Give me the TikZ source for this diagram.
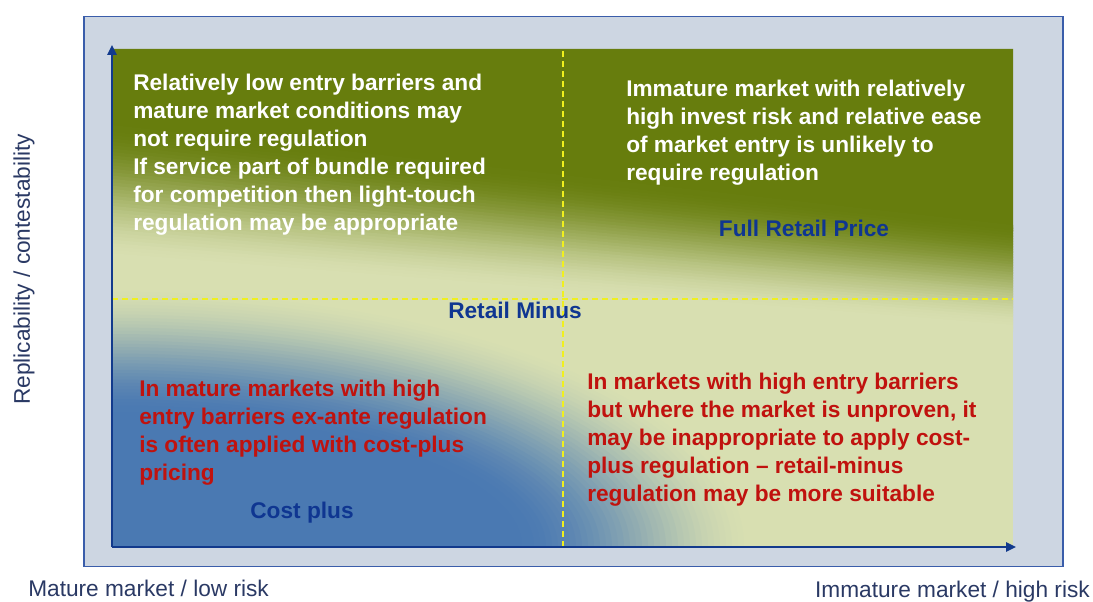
\documentclass[tikz,border=0pt]{standalone}
\usepackage{fontspec}
\setmainfont{Liberation Sans}
\usetikzlibrary{
    positioning,
    arrows.meta
    }

\definecolor{leaf}{RGB}{103,125,13}
\definecolor{cream}{RGB}{216,223,177}
\definecolor{steel}{RGB}{74,121,178}
\definecolor{panel}{RGB}{205,214,226}
\definecolor{panelline}{RGB}{58,93,170}
\definecolor{axisblue}{RGB}{18,58,140}
\definecolor{navy}{RGB}{15,54,145}
\definecolor{warnred}{RGB}{192,18,14}
\definecolor{guide}{RGB}{240,240,30}
\definecolor{slate}{RGB}{42,57,100}

\begin{document}
\begin{tikzpicture}[x=0.75pt, y=0.75pt]
	\tikzset{backdrop/.style =
			{
				fill=panel,
				draw=panelline,
				line width=1.1pt
			}
	}

	\tikzset{axis/.style =
			{
				line width=1.3pt,
				axisblue,
				-{Triangle[length=7.5pt, width=7pt]}
			}
	}

	\tikzset{guide line/.style =
			{
				line width=1.4pt,
				guide,
				dash pattern=on 4.5pt off 3pt
			}
	}

	\tikzset{note/.style =
			{
				font=\fontsize{17}{21}\selectfont\bfseries,
				align=left,
				inner sep=0pt,
				anchor=north west
			}
	}

	\tikzset{light note/.style = { note, text=white } }

	\tikzset{red note/.style = { note, text=warnred } }

	\tikzset{regime/.style =
			{
				font=\fontsize{17}{21}\selectfont\bfseries,
				text=navy,
				inner sep=0pt,
				anchor=north
			}
	}

	\tikzset{axis label/.style =
			{
				font=\fontsize{17}{21}\selectfont,
				text=slate,
				inner sep=0pt,
				anchor=base west
			}
	}

	\useasboundingbox (0,0) rectangle (1093,601);

	\draw[backdrop] (84,34.5) rectangle (1063,584.5);

	\begin{scope}
		\clip (112,54) rectangle (1013,552);
		\fill[cream] (112,54) rectangle (1013,552);

		% green coming down from the top
		\fill[leaf] (112,552) -- (1013,552) -- (1013,370) -- (112,469) -- cycle;
		\foreach \k in {0,...,39}
			{
				\pgfmathsetmacro{\sfrom}{\k/40}
				\pgfmathsetmacro{\sto}{(\k+1.6)/40}
				\pgfmathsetmacro{\smid}{(\k+0.5)/40}
				\pgfmathtruncatemacro{\mixpct}{100*(1-\smid*\smid*(3-2*\smid))}
				\fill[leaf!\mixpct!cream]
				(112,{476-135*\sfrom}) -- (1013,{376-105*\sfrom})
				-- (1013,{376-105*\sto}) -- (112,{476-135*\sto}) -- cycle;
			}

		% blue rings round the lower left corner
		\foreach \k in {0,...,39}
			{
				\pgfmathsetmacro{\ringt}{\k/40}
				\pgfmathtruncatemacro{\mixpct}{100*\ringt*\ringt*(3-2*\ringt)}
				\fill[steel!\mixpct!cream] (112,54)
				ellipse [x radius={650-240*\ringt}, y radius={265-130*\ringt}];
			}
		\fill[steel] (112,54) ellipse [x radius=410, y radius=135];
	\end{scope}

	\coordinate (origin) at (112,54);
	\coordinate (ytip) at (112,556);
	\coordinate (xtip) at (1016,54);
	\coordinate (midtop) at (563,552);
	\coordinate (midbot) at (563,54);
	\coordinate (midleft) at (112,302);
	\coordinate (midright) at (1013,302);

	\draw[guide line] (midbot) -- (midtop);
	\draw[guide line] (midleft) -- (midright);

	\draw[axis] (origin) -- (ytip);
	\draw[axis] (origin) -- (xtip);

	\node[light note] (mature) at (133,527)
	{Relatively low entry barriers and\\
		mature market conditions may\\
		not require regulation\\
		If service part of bundle required\\
		for competition then light-touch\\
		regulation may be appropriate};

	\node[light note] (immature) at (626,521)
	{Immature market with relatively\\
		high invest risk and relative ease\\
		of market entry is unlikely to\\
		require regulation};

	\node[red note] (costnote) at (139,221)
	{In mature markets with high\\
		entry barriers ex-ante regulation\\
		is often applied with cost-plus\\
		pricing};

	\node[red note] (minusnote) at (587,228)
	{In markets with high entry barriers\\
		but where the market is unproven, it\\
		may be inappropriate to apply cost-\\
		plus regulation -- retail-minus\\
		regulation may be more suitable};

	\node[regime] (full) at (804,381) {Full Retail Price};
	\node[regime] (minus) at (515,299) {Retail Minus};
	\node[regime] (cost) at (302,99) {Cost plus};

	\node[axis label, rotate=90] (ylabel) at (30,196) {Replicability / contestability};
	\node[axis label] (xlow) at (28,5) {Mature market / low risk};
	\node[axis label, anchor=base east] (xhigh) at (1090,4) {Immature market / high risk};

\end{tikzpicture}
\end{document}
